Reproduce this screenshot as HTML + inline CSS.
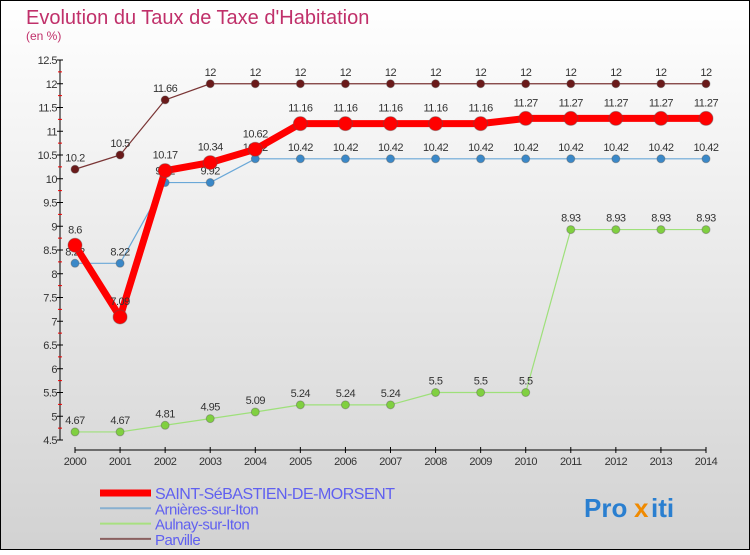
<!DOCTYPE html>
<html><head><meta charset="utf-8"><style>
html,body{margin:0;padding:0}
body{width:750px;height:550px;overflow:hidden;font-family:"Liberation Sans",sans-serif}
</style></head><body>
<svg id="chart" width="750" height="550" xmlns="http://www.w3.org/2000/svg" font-family="Liberation Sans, sans-serif">
<defs><linearGradient id="bg" x1="0" y1="0" x2="0" y2="1"><stop offset="0" stop-color="#ffffff"/><stop offset="1" stop-color="#d2d2d2"/></linearGradient></defs>
<rect x="0.5" y="0.5" width="749" height="549" fill="url(#bg)" stroke="#000"/>
<text x="26" y="24" font-size="20" fill="#c0306a">Evolution du Taux de Taxe d'Habitation</text>
<text x="26" y="40" font-size="12" fill="#c0306a">(en %)</text>
<g id="axes"></g><g id="series"></g><g id="legend"></g>
<g font-size="26" font-weight="bold">
<text x="584" y="517" fill="#2a7fd0">Pro</text><text x="634" y="517" fill="#f08a00">x</text><text x="651" y="517" fill="#2a7fd0">iti</text>
</g>
</svg>
<script>
const years=[2000,2001,2002,2003,2004,2005,2006,2007,2008,2009,2010,2011,2012,2013,2014];
const yTicks=[4.5,5,5.5,6,6.5,7,7.5,8,8.5,9,9.5,10,10.5,11,11.5,12,12.5];
const saintSeb=[8.6,7.09,10.17,10.34,10.62,11.16,11.16,11.16,11.16,11.16,11.27,11.27,11.27,11.27,11.27];
const arnieres=[8.22,8.22,9.92,9.92,10.42,10.42,10.42,10.42,10.42,10.42,10.42,10.42,10.42,10.42,10.42];
const aulnay=[4.67,4.67,4.81,4.95,5.09,5.24,5.24,5.24,5.5,5.5,5.5,8.93,8.93,8.93,8.93];
const parville=[10.2,10.5,11.66,12,12,12,12,12,12,12,12,12,12,12,12];
const NS="http://www.w3.org/2000/svg";
function X(i){return 75+i*(706-75)/(years.length-1);}
function Y(v){return 440-(v-4.5)*47.5;}
function mk(tag,attrs,parent){const e=document.createElementNS(NS,tag);for(const k in attrs)e.setAttribute(k,attrs[k]);parent.appendChild(e);return e;}
const axes=document.getElementById('axes');
let yl=mk('line',{x1:60,y1:Y(12.5),x2:60,y2:Y(4.5),stroke:'#000'},axes);


yTicks.forEach((t,i)=>{
 mk('line',{x1:57,y1:Y(t),x2:63,y2:Y(t),stroke:'#000'},axes);
 if(i<yTicks.length-1) mk('line',{x1:58,y1:Y(t+0.25),x2:62,y2:Y(t+0.25),stroke:'#e00'},axes);
 const tx=mk('text',{x:57,y:Y(t)+4,'font-size':11,'text-anchor':'end',fill:'#333','letter-spacing':'-0.5'},axes);
 
 
 tx.textContent=t;
});
let xl=mk('line',{x1:X(0),y1:450,x2:X(years.length-1),y2:450,stroke:'#000'},axes);


years.forEach((yr,i)=>{
 mk('line',{x1:X(i),y1:447,x2:X(i),y2:453,stroke:'#000'},axes);
 const tx=mk('text',{x:X(i),y:465,'font-size':11,'text-anchor':'middle',fill:'#333','letter-spacing':'-0.5'},axes);
 
 
 tx.textContent=yr;
});
const ser=document.getElementById('series');
function draw(name,vals,color,dot,w,r,labelDy){
 const g=mk('g',{},ser);
 
 
 const pl=mk('polyline',{points:vals.map((v,i)=>X(i)+','+Y(v)).join(' '),fill:'none',stroke:color,'stroke-width':w,'stroke-linejoin':'round'},g);
 
 
 vals.forEach((v,i)=>{
  const c=mk('circle',{cx:X(i),cy:Y(v),r:r,fill:dot,stroke:'#555','stroke-opacity':0.4},g);
  
  
  const t=mk('text',{x:X(i),y:Y(v)+labelDy,'font-size':11,'text-anchor':'middle',fill:'#333','letter-spacing':'-0.5'},g);
  
  
  t.textContent=v;
 });
}
draw('parville',parville,'#7a3535','#6a1a1a',1.2,4,-8);
draw('arnieres',arnieres,'#6aa8d8','#3a88c8',1.2,4,-8);
draw('aulnay',aulnay,'#9ee07a','#80d040',1.2,4,-8);
draw('saint-sebastien',saintSeb,'#ff0000','#ff0000',7,7,-12);
const leg=document.getElementById('legend');
const items=[['SAINT-SéBASTIEN-DE-MORSENT','#ff0000',7,16],['Arnières-sur-Iton','#88b0d0',2,15],['Aulnay-sur-Iton','#a8e080',2,15],['Parville','#8a6060',2,15]];
items.forEach((it,i)=>{
 const y=493+i*15.3;
 const g=mk('g',{},leg);
 
 
 mk('line',{x1:100,y1:y,x2:151,y2:y,stroke:it[1],'stroke-width':it[2]},g);
 const t=mk('text',{x:155,y:y+6,'font-size':it[3],fill:'#6060f0','letter-spacing':'-0.5'},g);
 t.textContent=it[0];
});
</script>
</body></html>
